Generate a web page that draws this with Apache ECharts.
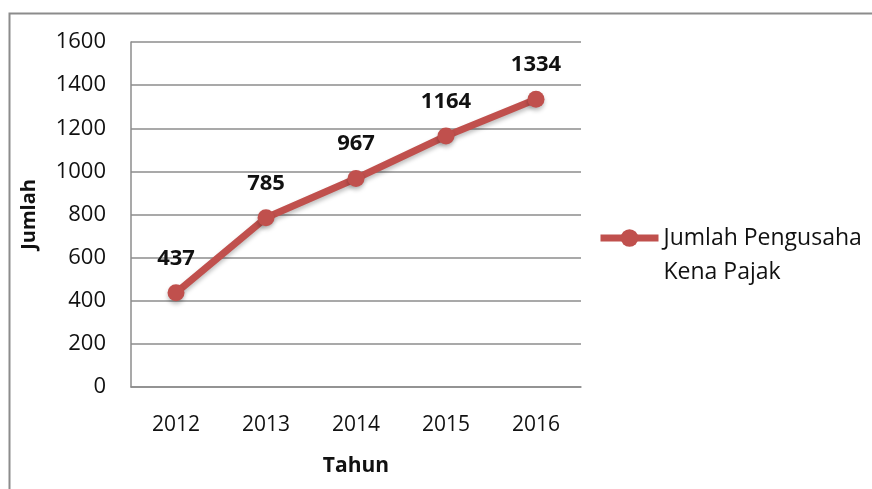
<!DOCTYPE html>
<html>
<head>
<meta charset="utf-8">
<script src="https://cdn.jsdelivr.net/npm/echarts@6/dist/echarts.min.js"></script>
<style>
  html, body { margin: 0; padding: 0; background: #fff; }
  #chart { width: 872px; height: 489px; }
</style>
</head>
<body>
<div id="chart"></div>
<script>
var years = ['2012', '2013', '2014', '2015', '2016'];
var jumlahPKP = [437, 785, 967, 1164, 1334];
var seriesName = 'Jumlah Pengusaha\nKena Pajak';

var chart = echarts.init(document.getElementById('chart'));
var font = 'Open Sans, Liberation Sans, sans-serif';
var red = '#c0504d';

chart.setOption({
  animation: false,
  textStyle: { fontFamily: font },
  graphic: [{
    type: 'rect',
    shape: { x: 9.5, y: 13.5, width: 1000, height: 1000 },
    style: { fill: 'none', stroke: '#8c8c8c', lineWidth: 2 },
    silent: true
  }],
  grid: { left: 131, top: 42, width: 450, height: 345 },
  legend: {
    orient: 'vertical',
    left: 597,
    top: 187,
    padding: 0,
    itemWidth: 58,
    itemHeight: 22,
    itemGap: 0,
    lineStyle: { color: red, width: 7 },
    itemStyle: { color: red },
    // leading empty line keeps the icon level with the first text line
    formatter: function (name) { return '\n' + name; },
    textStyle: { fontSize: 23, color: '#111', fontFamily: font, lineHeight: 34 },
    data: [seriesName]
  },
  xAxis: {
    type: 'category',
    data: years,
    name: 'Tahun',
    nameLocation: 'middle',
    nameGap: 69,
    nameTextStyle: { fontSize: 21, fontWeight: 'bold', color: '#111' },
    axisLine: { lineStyle: { color: '#8c8c8c', width: 1.5 } },
    axisTick: { show: false },
    axisLabel: { fontSize: 21, color: '#111', margin: 28 }
  },
  yAxis: {
    type: 'value',
    min: 0,
    max: 1600,
    interval: 200,
    name: 'Jumlah',
    nameLocation: 'middle',
    nameGap: 92,
    nameTextStyle: { fontSize: 20, fontWeight: 'bold', color: '#111' },
    axisLine: { show: true, lineStyle: { color: '#8c8c8c', width: 1.5 } },
    axisTick: { show: false },
    splitLine: { lineStyle: { color: '#8c8c8c', width: 1.5 } },
    axisLabel: { fontSize: 22, color: '#111', margin: 25, formatter: function (v) { return String(v); } }
  },
  series: [{
    name: seriesName,
    type: 'line',
    data: jumlahPKP,
    symbol: 'circle',
    symbolSize: 17,
    lineStyle: { color: red, width: 7, shadowColor: 'rgba(0,0,0,0.25)', shadowBlur: 4, shadowOffsetY: 3 },
    itemStyle: { color: red, shadowColor: 'rgba(0,0,0,0.25)', shadowBlur: 4, shadowOffsetY: 3 },
    label: {
      show: true,
      position: 'top',
      distance: 15,
      fontSize: 22,
      fontWeight: 'bold',
      color: '#111'
    }
  }]
});
</script>
</body>
</html>
